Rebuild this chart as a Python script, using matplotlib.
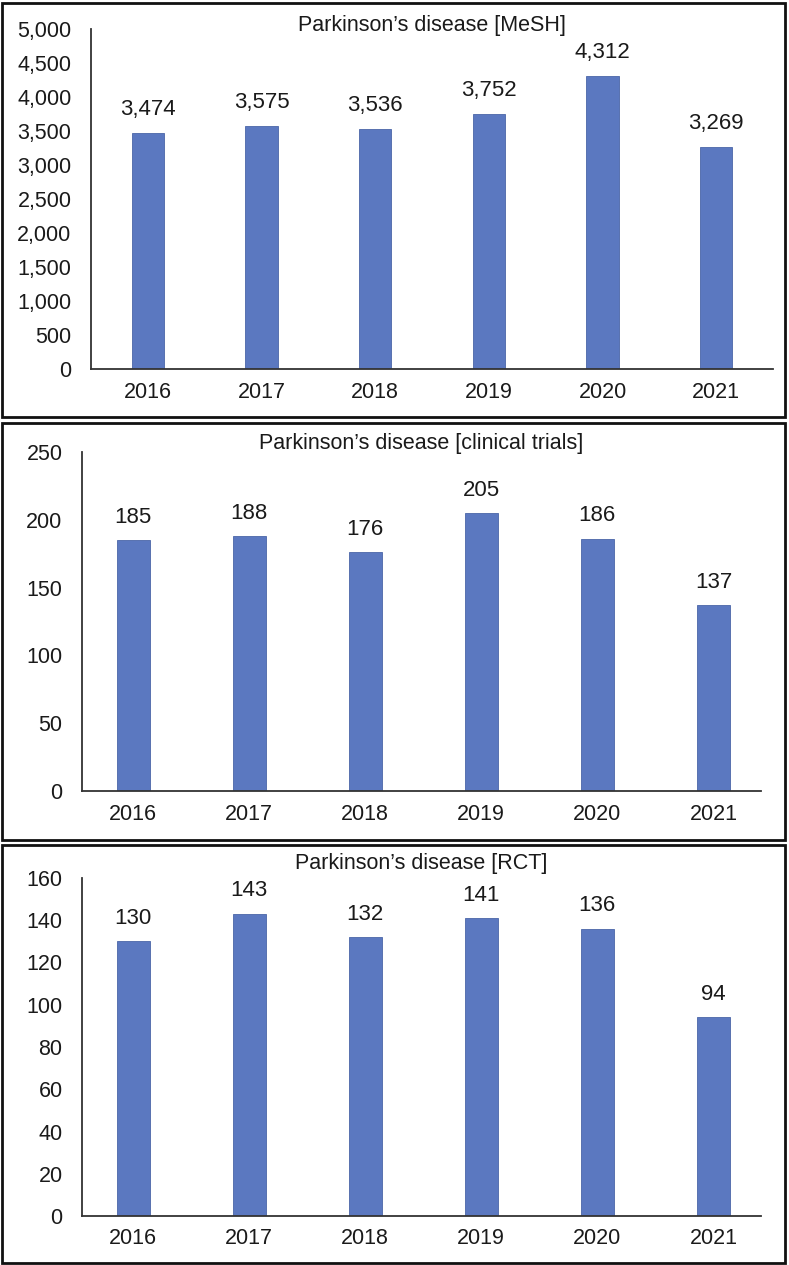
import matplotlib.pyplot as plt
from matplotlib.patches import Rectangle
import numpy as np

plt.rcParams['font.family'] = ['Liberation Sans', 'DejaVu Sans']

years = ['2016', '2017', '2018', '2019', '2020', '2021']
mesh = [3474, 3575, 3536, 3752, 4312, 3269]
trials = [185, 188, 176, 205, 186, 137]
rct = [130, 143, 132, 141, 136, 94]

titles = ['Parkinson\u2019s disease [MeSH]',
          'Parkinson\u2019s disease [clinical trials]',
          'Parkinson\u2019s disease [RCT]']
ymax = [5000, 250, 160]
ystep = [500, 50, 20]

W, H = 789, 1265
fig = plt.figure(figsize=(W / 100, H / 100), dpi=100)

# axes boxes in pixels: left, right, top, bottom
boxes = [(91, 773, 29, 369), (82, 761, 452, 791), (82, 761, 878, 1216)]
xlims = [(-0.5, 5.5), (-0.44, 5.41), (-0.44, 5.41)]
# panel borders in pixels: top, bottom
frames = [(3, 417), (423, 840), (845, 1263)]
title_y = [26, 443, 863]

bar_color = '#5B78C0'

for i, vals in enumerate([mesh, trials, rct]):
    l, r, t, b = boxes[i]
    ax = fig.add_axes([l / W, 1 - b / H, (r - l) / W, (b - t) / H])
    x = np.arange(len(years))
    ax.bar(x, vals, width=0.285, color=bar_color, edgecolor='#4A65A8', linewidth=0.6)
    for xi, v in zip(x, vals):
        ax.annotate(f'{v:,}', (xi, v), xytext=(0, 9), textcoords='offset points',
                    ha='center', va='bottom', fontsize=16, color='#1a1a1a')
    ax.set_xlim(*xlims[i])
    ax.set_ylim(0, ymax[i])
    ax.set_yticks(np.arange(0, ymax[i] + 1, ystep[i]))
    ax.yaxis.set_major_formatter(plt.FuncFormatter(lambda v, p: f'{int(v):,}'))
    ax.set_xticks(x)
    ax.set_xticklabels(years)
    ax.tick_params(axis='both', length=0, labelsize=15.5, colors='#1a1a1a')
    ax.tick_params(axis='y', pad=14)
    ax.tick_params(axis='x', pad=9)
    for s in ['top', 'right']:
        ax.spines[s].set_visible(False)
    for s in ['left', 'bottom']:
        ax.spines[s].set_color('#333333')
        ax.spines[s].set_linewidth(1.3)
    ax.patch.set_alpha(0)

    fig.text((l + r) / 2 / W, 1 - title_y[i] / H, titles[i], ha='center', va='center',
             fontsize=15.5, color='#1a1a1a')

    ft, fb = frames[i]
    fig.patches.append(Rectangle((2 / W, 1 - fb / H), (785 - 2) / W, (fb - ft) / H,
                                 transform=fig.transFigure, fill=False,
                                 edgecolor='#111111', linewidth=2))

fig.savefig('out.png', dpi=100)
